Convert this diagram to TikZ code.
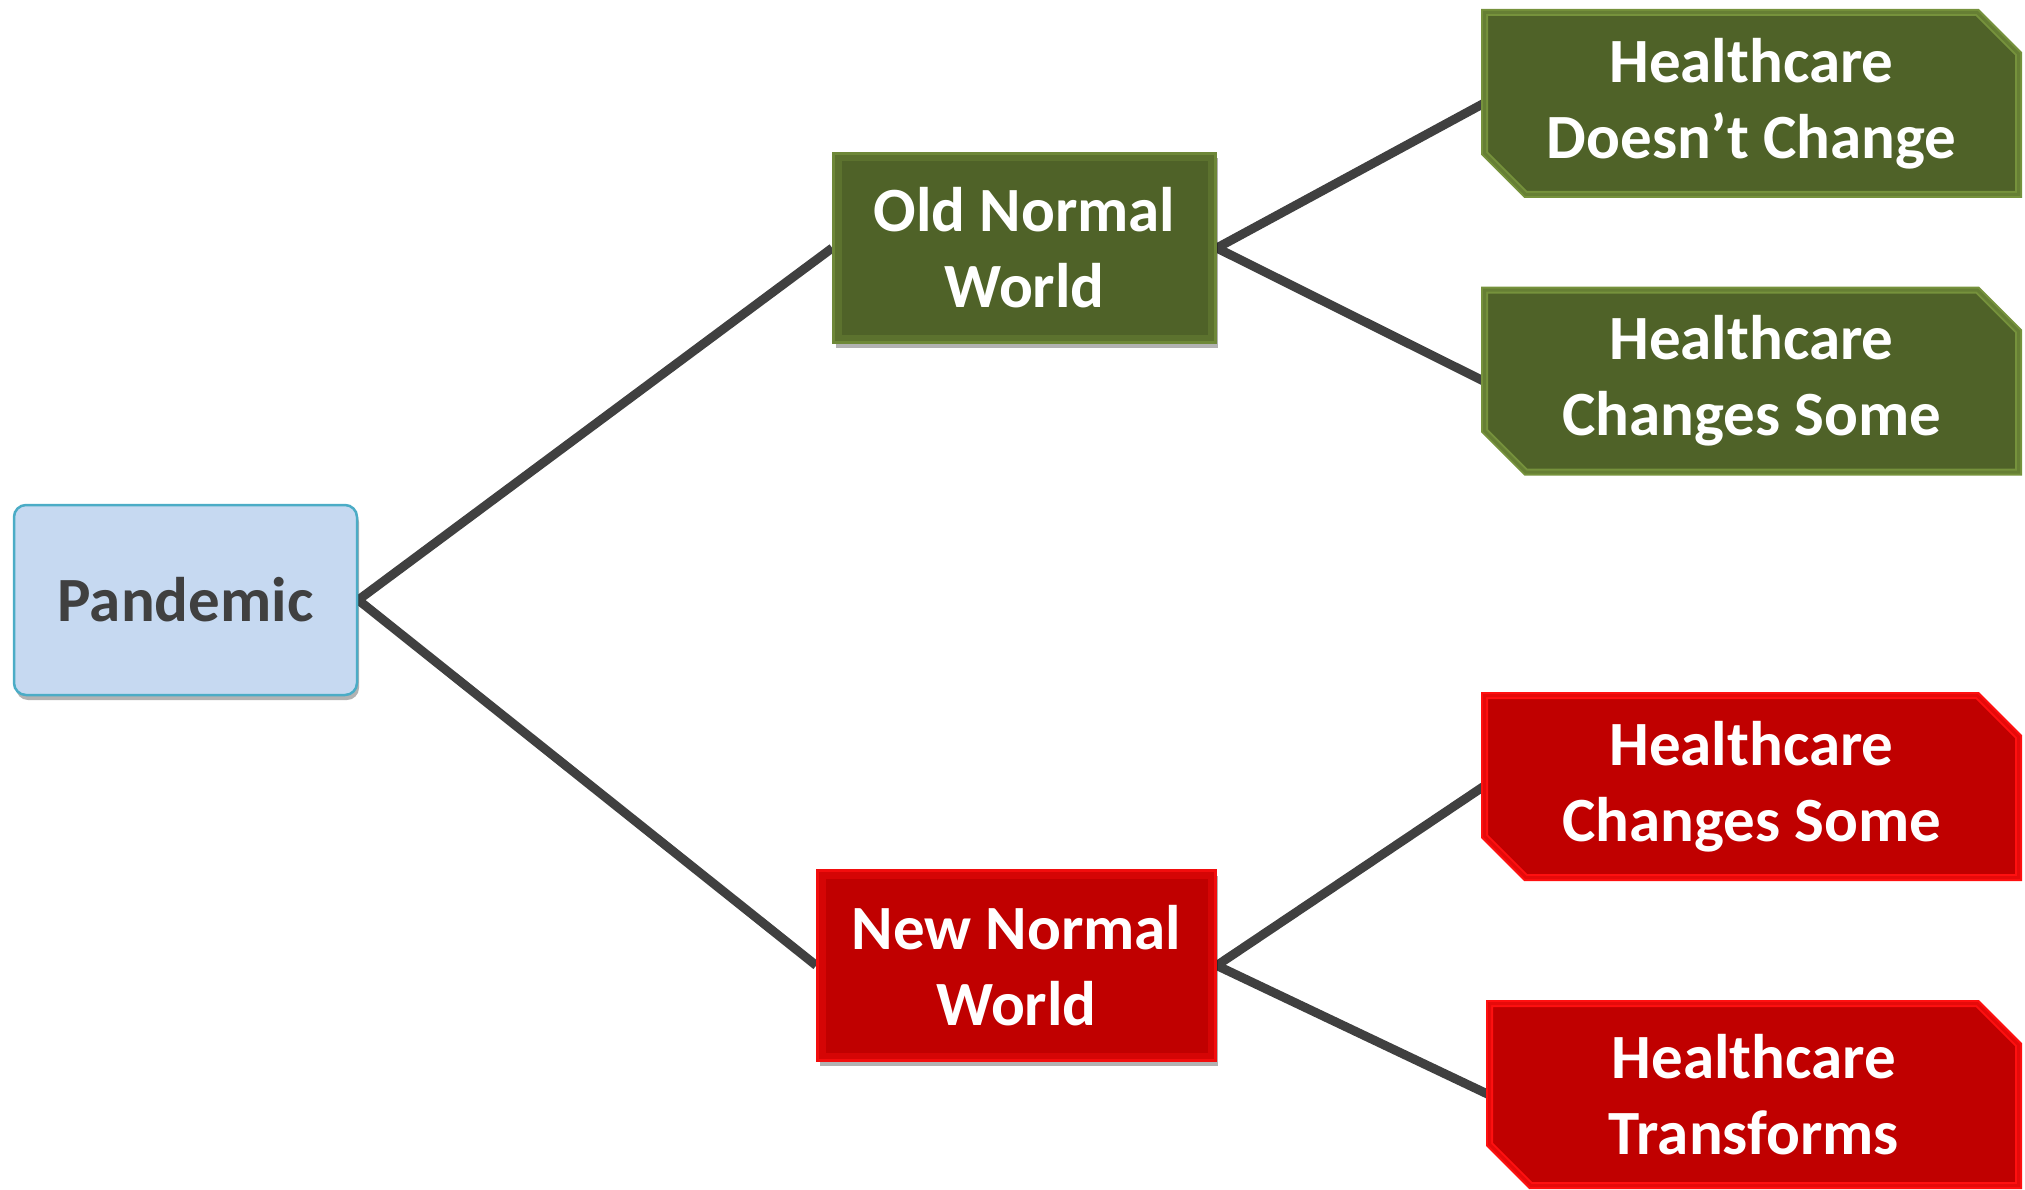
\documentclass[tikz,border=0pt]{standalone}
\usepackage{fontspec}
\setmainfont{Carlito}
\usetikzlibrary{shapes.misc,shadows,backgrounds}
\definecolor{pandfill}{HTML}{C6D9F1}
\definecolor{pandline}{HTML}{4BACC6}
\definecolor{txtgray}{HTML}{404040}
\definecolor{olivefill}{HTML}{4F6228}
\definecolor{oliveedge}{HTML}{76923C}
\definecolor{redfill}{HTML}{C00000}
\definecolor{rededge}{HTML}{FF1010}
\definecolor{connclr}{HTML}{404040}
\begin{document}
\begin{tikzpicture}[x=1pt,y=-1pt,
  lbl/.style={font=\bfseries\fontsize{63}{76}\selectfont, align=center, inner sep=0pt},
  softshadow/.style={drop shadow={shadow xshift=2pt, shadow yshift=-5pt, opacity=0.3, fill=black}},
  pand/.style={lbl, rectangle, rounded corners=12pt, fill=pandfill, draw=pandline, line width=2.5pt,
    text=txtgray, minimum width=343pt, minimum height=190pt, softshadow},
  bevel/.style={path picture={\draw[line width=16pt, color=#1, opacity=0.35]
    (path picture bounding box.south west) rectangle (path picture bounding box.north east);}},
  worldbox/.style={lbl, rectangle, text=white, line width=2.5pt, softshadow},
  oldbox/.style={worldbox, fill=olivefill, draw=oliveedge!80!olivefill, bevel=oliveedge,
    minimum width=382pt, minimum height=189pt},
  newbox/.style={worldbox, fill=redfill, draw=rededge!80!redfill, bevel=rededge,
    minimum width=398pt, minimum height=190pt},
  snip/.style={lbl, chamfered rectangle, chamfered rectangle corners={north east,south west},
    chamfered rectangle xsep=38pt, text=white, minimum width=534pt, minimum height=182pt,
    line width=2pt, double distance=3pt},
  greensnip/.style={snip, fill=olivefill, draw=oliveedge, double=oliveedge!60!olivefill},
  redsnip/.style={snip, fill=redfill, draw=rededge, double=rededge!60!redfill},
  connector/.style={draw=connclr, line width=9pt}
]
\useasboundingbox (0,0) rectangle (2025,1190);

\node[pand] (pan) at (185.5,600) {Pandemic};
\node[oldbox] (old) at (1024.5,248) {Old Normal\\World};
\node[newbox] (new) at (1016.5,965.5) {New Normal\\World};
\node[greensnip] (g1) at (1751.5,103.5) {Healthcare\\Doesn’t Change};
\node[greensnip] (g2) at (1751.5,381) {Healthcare\\Changes Some};
\node[redsnip] (r1) at (1751.5,786.5) {Healthcare\\Changes Some};
\node[redsnip, minimum width=529pt] (r2) at (1754,1094.5) {Healthcare\\Transforms};

\begin{scope}[on background layer]
  \draw[connector] (pan.east) -- (old.west);
  \draw[connector] (pan.east) -- (new.west);
  \draw[connector] (old.east) -- (g1.west);
  \draw[connector] (old.east) -- (g2.west);
  \draw[connector] (new.east) -- (r1.west);
  \draw[connector] (new.east) -- (r2.west);
\end{scope}
\end{tikzpicture}
\end{document}
